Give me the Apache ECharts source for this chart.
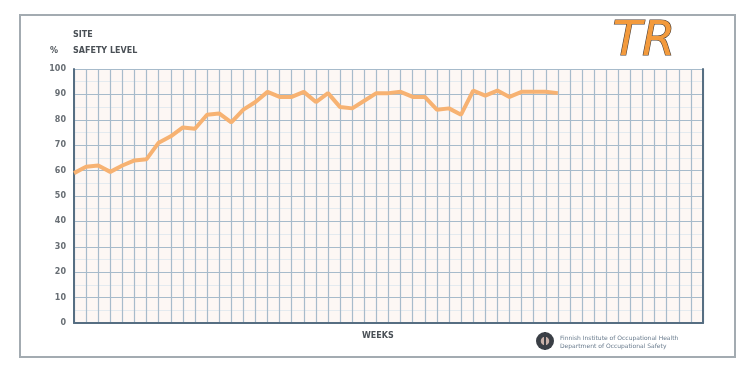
<!DOCTYPE html>
<html>
<head>
<meta charset="utf-8">
<script src="https://cdn.jsdelivr.net/npm/echarts@6/dist/echarts.min.js"></script>
<style>
  html, body { margin: 0; padding: 0; background: #ffffff; }
  #chart { width: 747px; height: 377px; }
</style>
</head>
<body>
<div id="chart"></div>
<script>
// weeks 0..52 along the x axis
var weekCount = 52;
var weeks = [];
for (var w = 0; w <= weekCount; w++) { weeks.push(String(w)); }

// % safety level, one value per week
var safetyLevel = [59, 61.5, 62, 59.5, 62, 64, 64.5, 71, 73.5, 77,
                   76.5, 82, 82.5, 79, 84, 87, 91, 89, 89, 91,
                   87, 90.5, 85, 84.5, 87.5, 90.5, 90.5, 91, 89, 89,
                   84, 84.5, 82, 91.5, 89.5, 91.5, 89, 91, 91, 91, 90.5];

var yTicks = [0, 10, 20, 30, 40, 50, 60, 70, 80, 90, 100];

var myChart = echarts.init(document.getElementById('chart'));
var gridColor = '#a7bbcb';
var axisDark = '#566e82';

var option = {
    backgroundColor: '#ffffff',
    animation: false,
    grid: {
        left: 74, right: 44, top: 69, bottom: 54,
        show: true,
        backgroundColor: '#fdf7f4',
        borderWidth: 0
    },
    xAxis: {
        type: 'category',
        data: weeks,
        boundaryGap: false,
        axisLine: { lineStyle: { color: axisDark, width: 2 } },
        axisTick: { show: false },
        axisLabel: { show: false },
        splitLine: { show: true, interval: 0, lineStyle: { color: gridColor, width: 1.2 } }
    },
    yAxis: [
        {
            type: 'value',
            min: yTicks[0],
            max: yTicks[yTicks.length - 1],
            interval: 10,
            axisLine: { show: true, lineStyle: { color: axisDark, width: 2 } },
            axisTick: { show: false },
            axisLabel: {
                margin: 8,
                color: '#686e74',
                fontSize: 8,
                fontWeight: 'bold',
                fontFamily: 'DejaVu Sans'
            },
            splitLine: { show: true, lineStyle: { color: gridColor, width: 1.2 } },
            minorSplitLine: { show: true, lineStyle: { color: '#e4eaef', width: 1 } },
            minorTick: { show: false, splitNumber: 2 }
        },
        {
            type: 'value',
            position: 'right',
            min: yTicks[0],
            max: yTicks[yTicks.length - 1],
            axisLine: { show: true, lineStyle: { color: axisDark, width: 2 } },
            axisTick: { show: false },
            axisLabel: { show: false },
            splitLine: { show: false }
        }
    ],
    series: [
        {
            name: '% SAFETY LEVEL',
            type: 'line',
            data: safetyLevel,
            showSymbol: false,
            lineStyle: { color: '#f7b272', width: 4 },
            z: 5
        }
    ],
    graphic: [
        {
            type: 'rect', z: -1,
            shape: { x: 20, y: 15, width: 715, height: 342 },
            style: { fill: 'none', stroke: '#a3abb1', lineWidth: 2 }
        },
        {
            type: 'text', left: 73, top: 31,
            style: { text: 'SITE', font: 'bold 8px "DejaVu Sans"', fill: '#4a5056' }
        },
        {
            type: 'text', left: 50, top: 47,
            style: { text: '%', font: 'bold 8px "DejaVu Sans"', fill: '#4a5056' }
        },
        {
            type: 'text', left: 73, top: 47,
            style: { text: 'SAFETY LEVEL', font: 'bold 8px "DejaVu Sans"', fill: '#4a5056' }
        },
        {
            type: 'text', left: 362, top: 332,
            style: { text: 'WEEKS', font: 'bold 8px "DejaVu Sans"', fill: '#4a5056' }
        },
        {
            type: 'text', left: 612, top: 18,
            style: {
                text: 'TR',
                font: 'italic 48px "DejaVu Sans"',
                fill: '#f39a3c',
                stroke: '#4a3f38',
                lineWidth: 1.2
            }
        },
        {
            type: 'circle',
            shape: { cx: 545, cy: 341, r: 9 },
            style: { fill: '#3a3f46' }
        },
        {
            type: 'circle',
            shape: { cx: 545, cy: 341, r: 5 },
            style: { fill: '#c8b0a8', stroke: '#3a3f46', lineWidth: 1.5 }
        },
        {
            type: 'rect',
            shape: { x: 544, y: 332, width: 2, height: 18 },
            style: { fill: '#3a3f46' }
        },
        {
            type: 'text', left: 560, top: 334,
            style: {
                text: 'Finnish Institute of Occupational Health\nDepartment of Occupational Safety',
                font: '6px "DejaVu Sans"',
                lineHeight: 8,
                fill: '#6a7c8e'
            }
        }
    ]
};
myChart.setOption(option);
</script>
</body>
</html>
